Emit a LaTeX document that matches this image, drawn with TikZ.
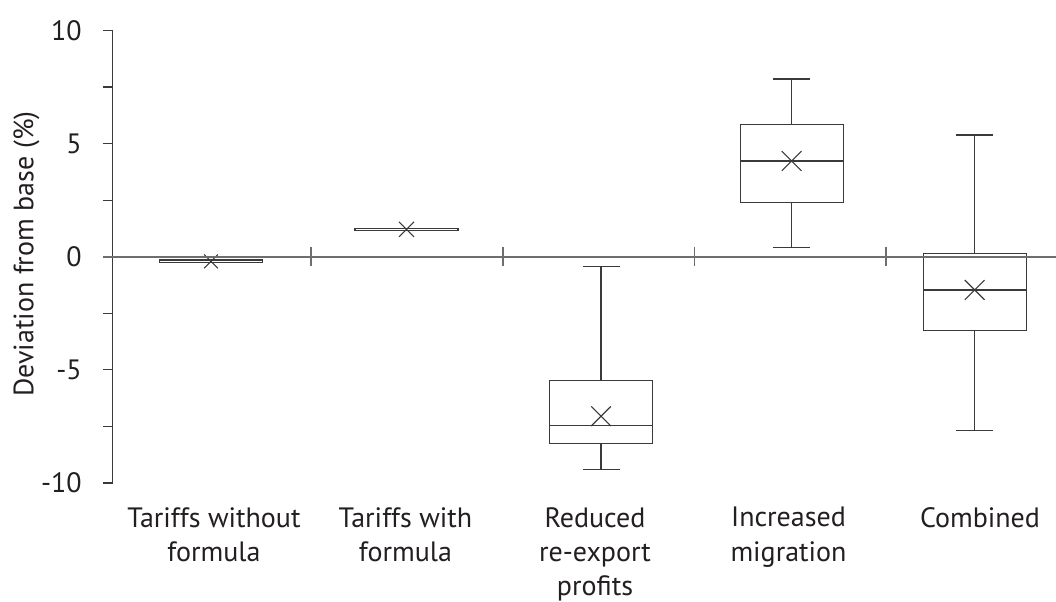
\documentclass[tikz,border=0pt]{standalone}
\usepackage{fontspec}
\setmainfont{PT Sans}
\usetikzlibrary{shapes.misc}

\definecolor{inkcol}{HTML}{231F20}
\definecolor{axiscol}{HTML}{3A3A3A}
\definecolor{zerocol}{HTML}{6E6E6E}

\tikzset{
  boxline/.style={draw=axiscol,line width=0.9pt},
  meanmark/.style={cross out,draw=axiscol,line width=0.8pt,inner sep=0pt,minimum size=14pt},
  ticklabel/.style={anchor=east,inner sep=0pt,text=inkcol},
  catlabel/.style={anchor=north,align=center,inner sep=0pt,text=inkcol}
}

\begin{document}
\begin{tikzpicture}[x=0.75pt,y=0.75pt,font=\fontsize{21}{25.7}\selectfont]
  \useasboundingbox (0,0) rectangle (1056,601);

  \begin{scope}[shift={(0,344.3)},yscale=22.63]
    % axis
    \draw[axiscol,line width=0.9pt] (103,10) -- (112.3,10) -- (112.3,-10) -- (103,-10);
    \draw[axiscol,line width=0.9pt] (103,7.5) -- (112.3,7.5);
    \draw[axiscol,line width=0.9pt] (103,5) -- (112.3,5);
    \draw[axiscol,line width=0.9pt] (103,2.5) -- (112.3,2.5);
    \draw[axiscol,line width=0.9pt] (103,-2.5) -- (112.3,-2.5);
    \draw[axiscol,line width=0.9pt] (103,-5) -- (112.3,-5);
    \draw[axiscol,line width=0.9pt] (103,-7.5) -- (112.3,-7.5);

    \node[ticklabel] (t10) at (82,10) {10};
    \node[ticklabel] (t5) at (82,5) {5};
    \node[ticklabel] (t0) at (82,0) {0};
    \node[ticklabel] (tm5) at (82,-5) {-5};
    \node[ticklabel] (tm10) at (82,-10) {-10};

    % boxes
    \draw[boxline,fill=white] (159.5,-0.26) rectangle (262.5,-0.15);
    \node[meanmark,minimum size=9.5pt] (mean1) at (211,-0.21) {};

    \draw[boxline,fill=white] (355,1.16) rectangle (458,1.25);
    \node[meanmark,minimum size=10.5pt] (mean2) at (406.5,1.21) {};

    \draw[boxline] (601,-0.44) -- (601,-5.46);
    \draw[boxline] (601,-8.24) -- (601,-9.39);
    \draw[boxline] (582.5,-0.44) -- (619.5,-0.44);
    \draw[boxline] (582.5,-9.39) -- (619.5,-9.39);
    \draw[boxline] (549.5,-8.24) rectangle (652.5,-5.46);
    \draw[boxline] (549.5,-7.47) -- (652.5,-7.47);
    \node[meanmark] (mean3) at (601,-7.05) {};

    \draw[boxline] (791.7,7.85) -- (791.7,5.84);
    \draw[boxline] (791.7,2.39) -- (791.7,0.40);
    \draw[boxline] (773.2,7.85) -- (810.2,7.85);
    \draw[boxline] (773.2,0.40) -- (810.2,0.40);
    \draw[boxline] (740.2,2.39) rectangle (843.2,5.84);
    \draw[boxline] (740.2,4.23) -- (843.2,4.23);
    \node[meanmark] (mean4) at (791.7,4.23) {};

    \draw[boxline] (974.7,5.38) -- (974.7,0.15);
    \draw[boxline] (974.7,-3.27) -- (974.7,-7.67);
    \draw[boxline] (956.2,5.38) -- (993.2,5.38);
    \draw[boxline] (956.2,-7.67) -- (993.2,-7.67);
    \draw[boxline] (923.2,-3.27) rectangle (1026.2,0.15);
    \draw[boxline] (923.2,-1.47) -- (1026.2,-1.47);
    \node[meanmark] (mean5) at (974.7,-1.47) {};

    % zero line with category ticks
    \draw[zerocol,line width=1.5pt] (103,0) -- (1056,0);
    \draw[zerocol,line width=1.2pt] (310.7,-0.42) -- (310.7,0.42);
    \draw[zerocol,line width=1.2pt] (502.7,-0.42) -- (502.7,0.42);
    \draw[zerocol,line width=1.2pt] (694.3,-0.42) -- (694.3,0.42);
    \draw[zerocol,line width=1.2pt] (886,-0.42) -- (886,0.42);
  \end{scope}

  % category labels
  \node[catlabel] (cat1) at (214,94) {Tariffs without\\formula};
  \node[catlabel] (cat2) at (405.5,94) {Tariffs with\\formula};
  \node[catlabel] (cat3) at (595,94) {Reduced\\re-export\\profits};
  \node[catlabel] (cat4) at (788.5,94) {Increased\\migration};
  \node[catlabel] (cat5) at (980,94) {Combined};

  \node[rotate=90,anchor=base,text=inkcol,inner sep=0pt] (ytitle) at (33.3,347) {Deviation from base (\%)};
\end{tikzpicture}
\end{document}
